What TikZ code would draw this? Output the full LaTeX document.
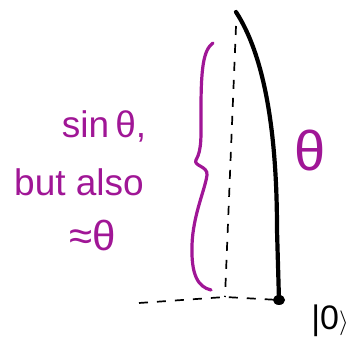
\documentclass[tikz,border=0pt]{standalone}
\usepackage{fontspec}
\setmainfont{Liberation Sans}
\begin{document}
\begin{tikzpicture}[x=1pt,y=-1pt,
  hand/.style={text=handpurple,font=\fontsize{37}{40}\selectfont,inner sep=0pt},
  arcline/.style={line width=4.2pt,line cap=round,line join=round},
  dashline/.style={line width=1.7pt,dash pattern=on 9pt off 9pt},
  brace/.style={draw=handpurple,line width=3.2pt,line cap=round,line join=round}]
\definecolor{handpurple}{RGB}{160,22,150}
\useasboundingbox (0,0) rectangle (354,339);
% key points
\coordinate (top) at (236,12);
\coordinate (origin) at (279,300);
\coordinate (dtop) at (236,26);
\coordinate (dfoot) at (225,297);
\coordinate (dleft) at (139,303);
\coordinate (btop) at (213,43);
\coordinate (bbot) at (211,290);
% arc (state vector path)
\draw[arcline] (top) .. controls (264,55) and (277,130) .. (277,230) -- (origin);
\fill (origin) ellipse (6pt and 5pt);
% dashed projection lines
\draw[dashline] (dtop) -- (dfoot);
\draw[dashline] (dleft) -- (dfoot) -- (origin);
% curly brace
\draw[brace] (btop) .. controls (203,50) and (201,70) .. (201,110)
  .. controls (201,135) and (202,150) .. (196,160)
  .. controls (193,166) and (208,166) .. (207,175)
  .. controls (205,190) and (193,215) .. (192,245)
  .. controls (191,275) and (198,287) .. (bbot);
% labels
\node[hand] (sin) at (104,126) {sin\,θ,};
\node[hand] (also) at (79,182) {but also};
\node[hand,font=\fontsize{42}{44}\selectfont] (approx) at (93,236) {≈θ};
\node[hand,font=\fontsize{56}{58}\selectfont] (theta) at (310,151) {θ};
\node[font=\fontsize{34}{36}\selectfont,inner sep=0pt] (ket) at (330,321) {|0$\rangle$};
\end{tikzpicture}
\end{document}
